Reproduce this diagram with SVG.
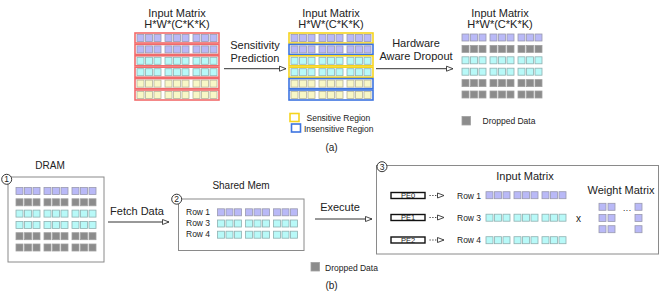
<svg xmlns="http://www.w3.org/2000/svg" xmlns:xlink="http://www.w3.org/1999/xlink" width="664" height="297" viewBox="0 0 664 297">
<style>
text{font-family:"Liberation Sans",Arial,sans-serif;fill:#222}
.t11{font-size:11px}
.t10{font-size:10px}
.t8{font-size:8.5px}
.t7{font-size:7.5px}
.pu{fill:#b9b9f7;stroke:#9a9aae;stroke-width:0.8}
.cy{fill:#b8f9f8;stroke:#8fb0b0;stroke-width:0.8}
.ye{fill:#f8f7c6;stroke:#b4b29a;stroke-width:0.8}
.gr{fill:#8c8c8c;stroke:#a0a0a0;stroke-width:0.8}
.rr{fill:#fff;stroke:#f26b6b;stroke-width:1.6}
.yr{fill:#fff;stroke:#f5d41e;stroke-width:1.6}
.br{fill:#fff;stroke:#3d74e0;stroke-width:1.6}
.box{fill:#fff;stroke:#8a8a8a;stroke-width:1}
.num{fill:#fff;stroke:#222;stroke-width:0.9}
.con{fill:none;stroke:#333;stroke-width:1}
.dot{fill:none;stroke:#333;stroke-width:1;stroke-dasharray:1.2,1.6}
.pe{fill:#fff;stroke:#111;stroke-width:1.4}
</style>
<defs>
<g id="cells">
<rect x="0" y="0" width="7" height="7"/><rect x="8.5" y="0" width="7" height="7"/><rect x="17" y="0" width="7" height="7"/>
<rect x="28" y="0" width="7" height="7"/><rect x="36.5" y="0" width="7" height="7"/><rect x="45" y="0" width="7" height="7"/>
<rect x="56" y="0" width="7" height="7"/><rect x="64.5" y="0" width="7" height="7"/><rect x="73" y="0" width="7" height="7"/>
</g>
<marker id="ah" markerUnits="userSpaceOnUse" markerWidth="9" markerHeight="8" refX="7.5" refY="3.5" orient="auto" overflow="visible">
<path d="M1,1 L7.5,3.5 L1,6 z" fill="#fff" stroke="#333" stroke-width="0.9"/>
</marker>
</defs>

<!-- (a) -->
<g id="matrix-a1">
<text class="t11" x="177" y="16.5" text-anchor="middle">Input Matrix</text>
<text class="t11" x="177" y="28" text-anchor="middle">H*W*(C*K*K)</text>
<rect class="rr" x="135" y="33" width="84" height="10"/>
<rect class="rr" x="135" y="44.4" width="84" height="10"/>
<rect class="rr" x="135" y="55.8" width="84" height="10"/>
<rect class="rr" x="135" y="67.2" width="84" height="10"/>
<rect class="rr" x="135" y="78.6" width="84" height="10"/>
<rect class="rr" x="135" y="90" width="84" height="10"/>
<use href="#cells" class="pu" x="137" y="34.5"/>
<use href="#cells" class="pu" x="137" y="45.9"/>
<use href="#cells" class="cy" x="137" y="57.3"/>
<use href="#cells" class="cy" x="137" y="68.7"/>
<use href="#cells" class="ye" x="137" y="80.1"/>
<use href="#cells" class="ye" x="137" y="91.5"/>
</g>

<g id="matrix-a2">
<text class="t11" x="331" y="16.5" text-anchor="middle">Input Matrix</text>
<text class="t11" x="331" y="28" text-anchor="middle">H*W*(C*K*K)</text>
<rect class="yr" x="289" y="33" width="84" height="10"/>
<rect class="br" x="289" y="44.4" width="84" height="10"/>
<rect class="yr" x="289" y="55.8" width="84" height="10"/>
<rect class="yr" x="289" y="67.2" width="84" height="10"/>
<rect class="br" x="289" y="78.6" width="84" height="10"/>
<rect class="br" x="289" y="90" width="84" height="10"/>
<use href="#cells" class="pu" x="291" y="34.5"/>
<use href="#cells" class="pu" x="291" y="45.9"/>
<use href="#cells" class="cy" x="291" y="57.3"/>
<use href="#cells" class="cy" x="291" y="68.7"/>
<use href="#cells" class="ye" x="291" y="80.1"/>
<use href="#cells" class="ye" x="291" y="91.5"/>
</g>

<g id="legend-a">
<rect x="290" y="113.5" width="9" height="8" fill="#fff" stroke="#f5d41e" stroke-width="1.6"/>
<text class="t8" x="306.5" y="120.5">Sensitive Region</text>
<rect x="291.5" y="124" width="9" height="8" fill="#fff" stroke="#3d74e0" stroke-width="1.6"/>
<text class="t8" x="304" y="131.5">Insensitive Region</text>
</g>

<g id="matrix-a3">
<text class="t11" x="500" y="16.5" text-anchor="middle">Input Matrix</text>
<text class="t11" x="500" y="28" text-anchor="middle">H*W*(C*K*K)</text>
<use href="#cells" class="pu" x="462" y="34"/>
<use href="#cells" class="gr" x="462" y="45.4"/>
<use href="#cells" class="cy" x="462" y="56.8"/>
<use href="#cells" class="cy" x="462" y="68.2"/>
<use href="#cells" class="gr" x="462" y="79.6"/>
<use href="#cells" class="gr" x="462" y="91"/>
<rect class="gr" x="462" y="116.5" width="8.5" height="8.5"/>
<text class="t8" x="482.5" y="124">Dropped Data</text>
</g>

<g id="connectors-a">
<text class="t11" x="255" y="49" text-anchor="middle">Sensitivity</text>
<text class="t11" x="255" y="62" text-anchor="middle">Prediction</text>
<line class="con" x1="224" y1="68.7" x2="286" y2="68.7" marker-end="url(#ah)"/>
<text class="t11" x="416" y="47" text-anchor="middle">Hardware</text>
<text class="t11" x="416" y="60" text-anchor="middle">Aware Dropout</text>
<line class="con" x1="376" y1="68.7" x2="453" y2="68.7" marker-end="url(#ah)"/>
</g>

<text class="t10" x="331.5" y="151" text-anchor="middle">(a)</text>

<!-- (b) -->
<g id="dram">
<text class="t10" x="50" y="168.5" text-anchor="middle">DRAM</text>
<rect class="box" x="8" y="177" width="96" height="85"/>
<use href="#cells" class="pu" x="16" y="187.5"/>
<use href="#cells" class="gr" x="16" y="198.8"/>
<use href="#cells" class="cy" x="16" y="210.1"/>
<use href="#cells" class="cy" x="16" y="221.4"/>
<use href="#cells" class="gr" x="16" y="232.7"/>
<use href="#cells" class="gr" x="16" y="244"/>
<circle class="num" cx="6.7" cy="179.3" r="5"/>
<text class="t8" x="6.7" y="182.3" text-anchor="middle">1</text>
</g>

<g id="shared-mem">
<text class="t10" x="241" y="189" text-anchor="middle">Shared Mem</text>
<rect class="box" x="178.5" y="199" width="125.5" height="51.5"/>
<text class="t8" x="186" y="215">Row 1</text>
<text class="t8" x="186" y="226">Row 3</text>
<text class="t8" x="186" y="237">Row 4</text>
<use href="#cells" class="pu" x="217.5" y="208.8"/>
<use href="#cells" class="cy" x="217.5" y="220"/>
<use href="#cells" class="cy" x="217.5" y="231.2"/>
<circle class="num" cx="176.7" cy="199.2" r="5"/>
<text class="t8" x="176.7" y="202.2" text-anchor="middle">2</text>
</g>

<g id="compute">
<rect class="box" x="376.5" y="165.5" width="282" height="88.5"/>
<circle class="num" cx="382" cy="166.7" r="5"/>
<text class="t8" x="382" y="169.7" text-anchor="middle">3</text>
<text class="t11" x="525" y="180" text-anchor="middle">Input Matrix</text>
<text class="t11" x="621" y="194" text-anchor="middle">Weight Matrix</text>
<rect class="pe" x="391" y="192.5" width="34" height="6"/>
<text class="t7" x="408" y="198.2" text-anchor="middle">PE0</text>
<rect class="pe" x="391" y="214.5" width="34" height="6"/>
<text class="t7" x="408" y="220.2" text-anchor="middle">PE1</text>
<rect class="pe" x="391" y="237" width="34" height="6"/>
<text class="t7" x="408" y="242.7" text-anchor="middle">PE2</text>
<text class="t8" x="457" y="198.5">Row 1</text>
<text class="t8" x="457" y="220.5">Row 3</text>
<text class="t8" x="457" y="243">Row 4</text>
<use href="#cells" class="pu" x="486" y="191.7"/>
<use href="#cells" class="cy" x="486" y="214.2"/>
<use href="#cells" class="cy" x="486" y="236.7"/>
<text class="t10" x="578.5" y="222" text-anchor="middle">x</text>
<rect class="pu" x="599" y="203.3" width="7" height="7"/>
<rect class="pu" x="608" y="203.3" width="7" height="7"/>
<rect class="pu" x="635" y="203.3" width="7" height="7"/>
<rect class="pu" x="599" y="214.5" width="7" height="7"/>
<rect class="pu" x="608" y="214.5" width="7" height="7"/>
<rect class="pu" x="635" y="214.5" width="7" height="7"/>
<rect class="pu" x="599" y="225.7" width="7" height="7"/>
<rect class="pu" x="608" y="225.7" width="7" height="7"/>
<rect class="pu" x="635" y="225.7" width="7" height="7"/>
<text class="t8" x="627" y="213" text-anchor="middle">···</text>
</g>

<g id="connectors-b">
<text class="t11" x="137" y="215" text-anchor="middle">Fetch Data</text>
<line class="con" x1="108" y1="222" x2="169" y2="222" marker-end="url(#ah)"/>
<text class="t11" x="340" y="211" text-anchor="middle">Execute</text>
<line class="con" x1="315" y1="219" x2="372" y2="219" marker-end="url(#ah)"/>
<line class="dot" x1="429.5" y1="195.5" x2="444" y2="195.5" marker-end="url(#ah)"/>
<line class="dot" x1="429.5" y1="217.5" x2="444" y2="217.5" marker-end="url(#ah)"/>
<line class="dot" x1="429.5" y1="240" x2="444" y2="240" marker-end="url(#ah)"/>
</g>

<g id="legend-b">
<rect class="gr" x="311" y="262.5" width="8.5" height="8.5"/>
<text class="t8" x="325" y="271">Dropped Data</text>
</g>

<text class="t10" x="331.5" y="289" text-anchor="middle">(b)</text>
</svg>
